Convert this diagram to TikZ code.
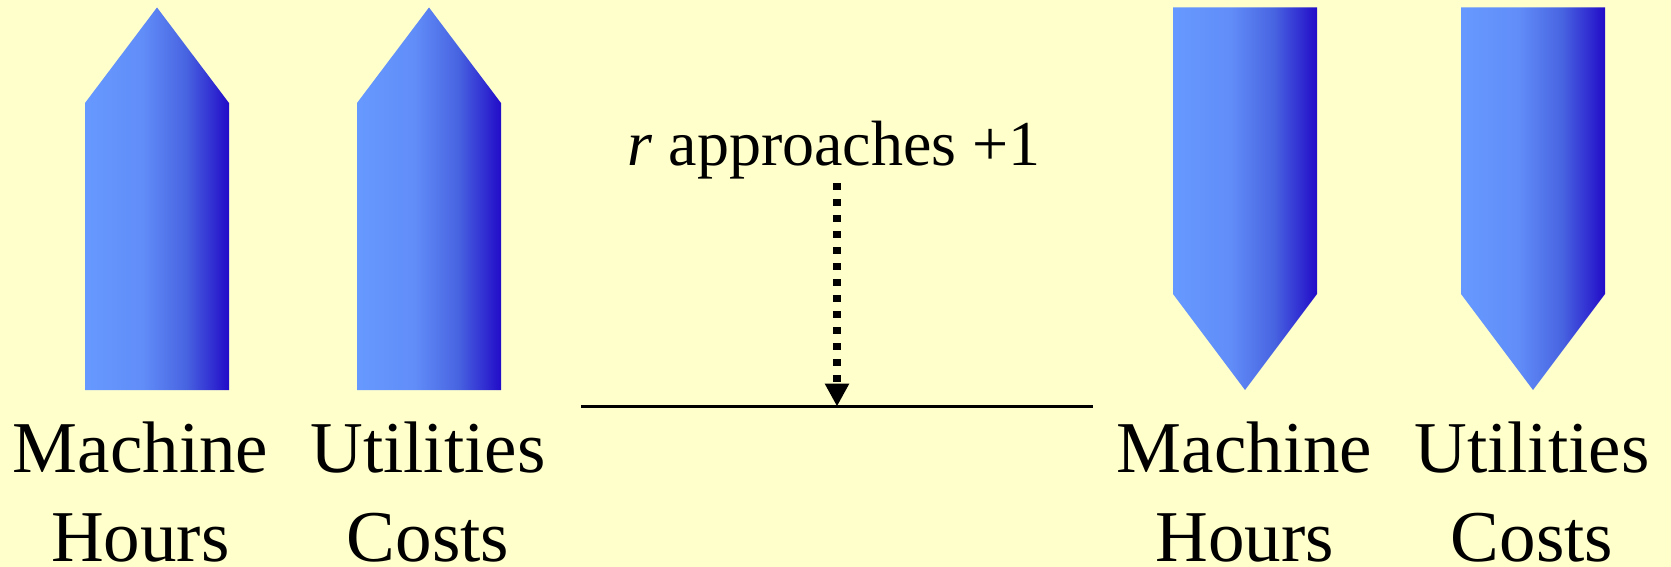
\documentclass[tikz,border=0pt]{standalone}
\usepackage{fontspec}
\setmainfont{Liberation Serif}
\usetikzlibrary{arrows.meta}
\definecolor{bgyellow}{RGB}{255,255,204}
\definecolor{lightb}{RGB}{102,153,255}
\definecolor{lightb2}{RGB}{97,141,248}
\definecolor{midb}{RGB}{72,100,225}
\definecolor{darkb}{RGB}{34,12,200}
\pgfdeclarehorizontalshading{bargrad}{100bp}{color(0bp)=(lightb); color(25bp)=(lightb); color(45bp)=(lightb2); color(60bp)=(midb); color(75bp)=(darkb); color(100bp)=(darkb)}
\tikzset{
  bar/.style={shading=bargrad, draw=none},
  lbl/.style={anchor=base, inner sep=0pt, font=\fontsize{73}{88}\selectfont},
  rtext/.style={anchor=base, inner sep=0pt, font=\fontsize{64}{76}\selectfont},
  dotline/.style={line width=8pt, dash pattern=on 7.3pt off 8.7pt, -{Triangle[width=23pt,length=23pt]}},
  baseline/.style={line width=3pt}
}
\begin{document}
\begin{tikzpicture}[x=1pt,y=-1pt]
\fill[bgyellow] (0,0) rectangle (1671,567);
\useasboundingbox (0,0) rectangle (1671,567);
% up arrows
\shade[bar] (85,390) -- (85,103) -- (157,7.5) -- (229,103) -- (229,390) -- cycle;
\shade[bar] (357,390) -- (357,103) -- (429,7.5) -- (501,103) -- (501,390) -- cycle;
% down arrows
\shade[bar] (1173,7.5) -- (1317,7.5) -- (1317,294) -- (1245,390) -- (1173,294) -- cycle;
\shade[bar] (1461,7.5) -- (1605,7.5) -- (1605,294) -- (1533,390) -- (1461,294) -- cycle;
% labels
\node[lbl] (m1) at (140.5,472) {Machine};
\node[lbl] (h1) at (140.5,561.6) {Hours};
\node[lbl] (u1) at (428,472) {Utilities};
\node[lbl] (c1) at (428,561.6) {Costs};
\node[lbl] (m2) at (1244.5,472) {Machine};
\node[lbl] (h2) at (1244.5,561.6) {Hours};
\node[lbl] (u2) at (1532,472) {Utilities};
\node[lbl] (c2) at (1532,561.6) {Costs};
% middle
\node[rtext] (rt) at (834,165) {\textit{r} approaches +1};
\coordinate (lineL) at (581,406.5);
\coordinate (lineR) at (1093,406.5);
\coordinate (atop) at (837,183);
\coordinate (atip) at (837,406.5);
\draw[baseline] (lineL) -- (lineR);
\draw[dotline] (atop) -- (atip);
\end{tikzpicture}
\end{document}
